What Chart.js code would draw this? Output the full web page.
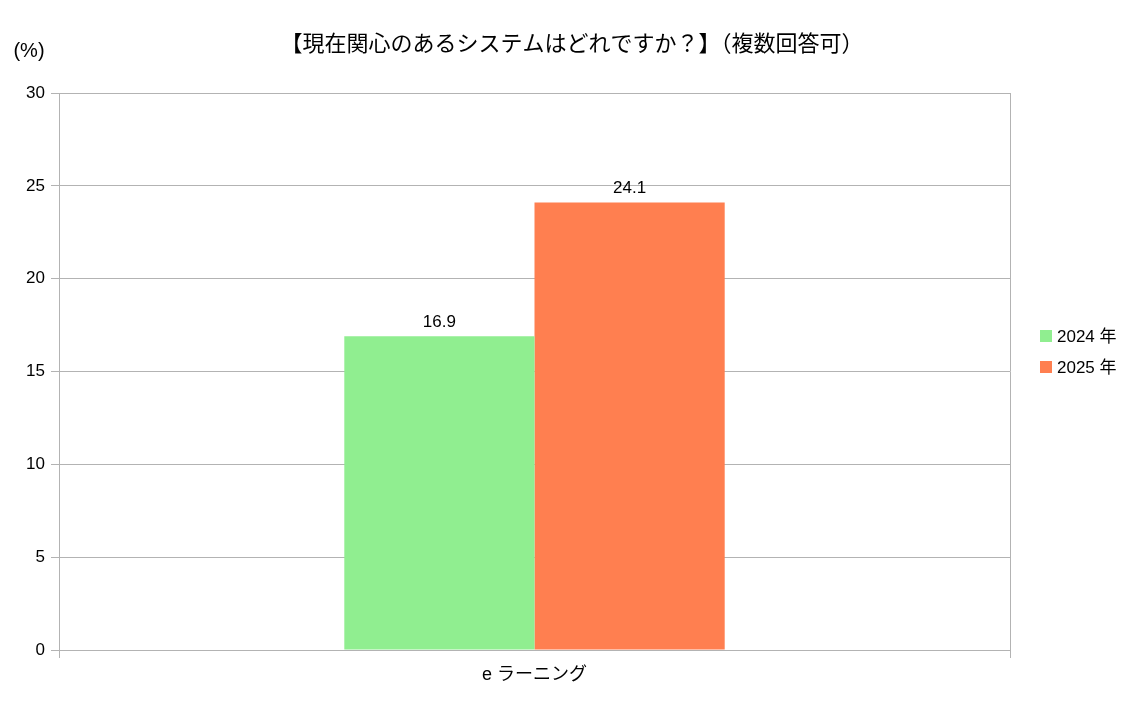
<!DOCTYPE html>
<html>
<head>
<meta charset="utf-8">
<script src="https://cdn.jsdelivr.net/npm/chart.js@4"></script>
<style>
  html, body { margin: 0; padding: 0; background: #fff; }
</style>
</head>
<body>
<canvas id="chart" width="1145" height="703"></canvas>
<script>
const FONT = '"Liberation Sans", "Noto Sans CJK JP", sans-serif';
const TITLE = "【現在関心のあるシステムはどれですか？】（複数回答可）";
const UNIT = "(%)";
const categories = ["e ラーニング"];
const seriesNames = ["2024 年", "2025 年"];
const values2024 = [16.9];
const values2025 = [24.1];
const colors = ["#90ee90", "#ff7f50"];

// title, unit, value labels and side legend
const decor = {
  id: "decor",
  afterDraw(chart) {
    const ctx = chart.ctx;
    ctx.save();
    ctx.fillStyle = "#000";
    ctx.textBaseline = "middle";
    ctx.textAlign = "center";
    ctx.font = "22px " + FONT;
    ctx.fillText(TITLE, 572, 45);
    ctx.font = "20px " + FONT;
    ctx.fillText(UNIT, 29, 51);

    ctx.font = "17px " + FONT;
    chart.data.datasets.forEach((ds, i) => {
      chart.getDatasetMeta(i).data.forEach((bar, j) => {
        ctx.fillText(ds.data[j].toFixed(1), bar.x, bar.y - 14);
      });
    });

    ctx.textAlign = "left";
    chart.data.datasets.forEach((ds, i) => {
      const y = 336 + i * 31;
      ctx.fillStyle = ds.backgroundColor;
      ctx.fillRect(1040, y - 6, 12, 12);
      ctx.fillStyle = "#000";
      ctx.fillText(ds.label, 1057, y + 1);
    });
    ctx.restore();
  },
};

new Chart(document.getElementById("chart"), {
  type: "bar",
  data: {
    labels: categories,
    datasets: [
      { label: seriesNames[0], data: values2024, backgroundColor: colors[0] },
      { label: seriesNames[1], data: values2025, backgroundColor: colors[1] },
    ],
  },
  options: {
    responsive: false,
    animation: false,
    layout: { padding: { top: 93, right: 135, left: 0, bottom: 0 } },
    datasets: { bar: { barPercentage: 1, categoryPercentage: 0.4 } },
    plugins: { legend: { display: false }, tooltip: { enabled: false } },
    scales: {
      x: {
        afterFit: (s) => { s.height = 53; },
        grid: { offset: true, color: "#b3b3b3", tickLength: 8, drawOnChartArea: true },
        border: { color: "#b3b3b3" },
        ticks: { color: "#000", font: { family: FONT, size: 18 }, padding: 6 },
      },
      y: {
        min: 0, max: 30,
        afterFit: (s) => { s.width = 59; },
        grid: { color: "#b3b3b3", tickLength: 8 },
        border: { color: "#b3b3b3" },
        ticks: { stepSize: 5, color: "#000", font: { family: FONT, size: 17 }, padding: 6 },
      },
    },
  },
  plugins: [decor],
});
</script>
</body>
</html>
